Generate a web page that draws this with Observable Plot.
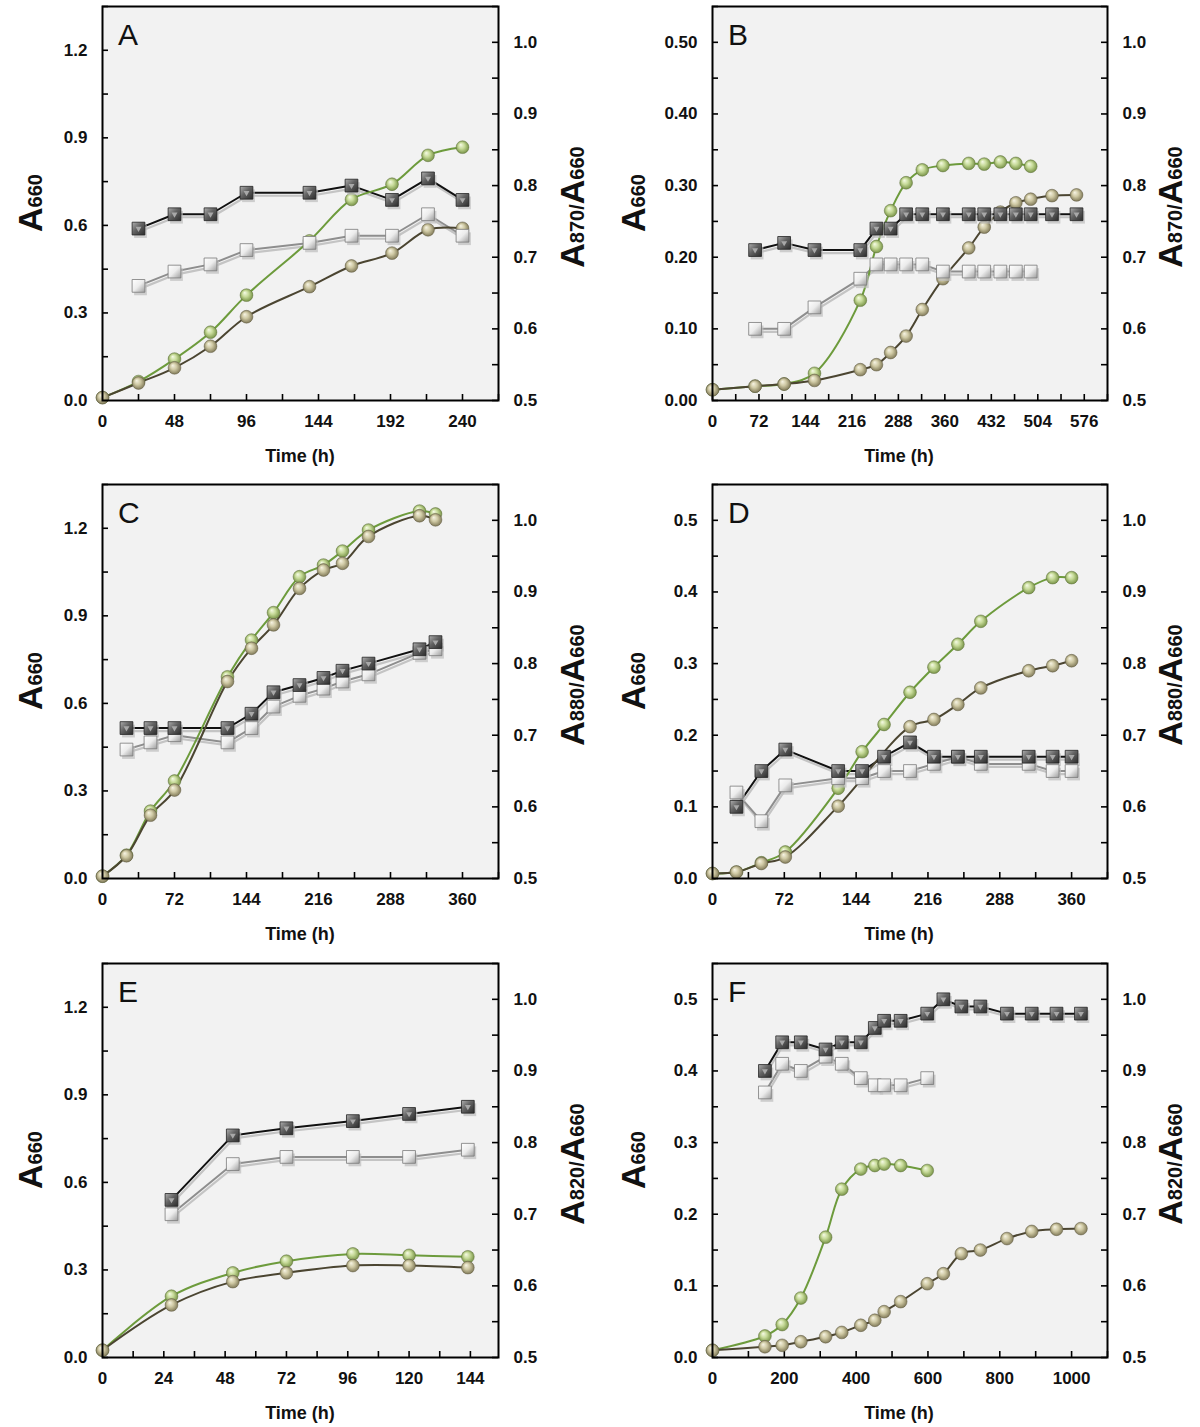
<!DOCTYPE html>
<html><head><meta charset="utf-8">
<script src="https://cdn.jsdelivr.net/npm/d3@7"></script>
<script src="https://cdn.jsdelivr.net/npm/@observablehq/plot@0.6"></script>
<style>
body{margin:0;background:#fff;font-family:"Liberation Sans",Arial,sans-serif;color:#111;}
#page{position:relative;width:1200px;height:1427px;overflow:hidden;background:#fff;}
.panel{position:absolute;width:600px;height:478px;}
.panel svg{position:absolute;left:0;top:0;}
.panel svg text{font-size:17px !important;font-weight:bold;fill:#111;}
.letter{position:absolute;font-size:30px;font-weight:normal;line-height:1;}
.xlab{position:absolute;font-size:18px;font-weight:bold;line-height:1;transform:translateX(-50%);white-space:nowrap;}
.ylab{position:absolute;font-weight:bold;white-space:nowrap;line-height:1;transform:translate(-50%,-50%) rotate(-90deg);}
.ylab .big{font-size:34px;}
.ylab .small{font-size:20px;}
</style></head><body>
<svg width="0" height="0" style="position:absolute"><defs>
<linearGradient id="sqDark" x1="0" y1="0" x2="1" y2="1">
<stop offset="0" stop-color="#b0b0b0"/><stop offset="0.45" stop-color="#626262"/><stop offset="1" stop-color="#2c2c2c"/></linearGradient>
<linearGradient id="sqLight" x1="0" y1="0" x2="1" y2="1">
<stop offset="0" stop-color="#ffffff"/><stop offset="0.5" stop-color="#ececec"/><stop offset="1" stop-color="#9c9c9c"/></linearGradient>
<radialGradient id="sphGreen" cx="0.5" cy="0.5" r="0.55" fx="0.35" fy="0.3">
<stop offset="0" stop-color="#f6fbe6"/><stop offset="0.45" stop-color="#c6da98"/><stop offset="1" stop-color="#6e8a3c"/></radialGradient>
<radialGradient id="sphTan" cx="0.5" cy="0.5" r="0.55" fx="0.35" fy="0.3">
<stop offset="0" stop-color="#f7f4e4"/><stop offset="0.45" stop-color="#cfc9a4"/><stop offset="1" stop-color="#77704f"/></radialGradient>
</defs></svg>
<div id="page"></div>
<script>
// ---------- tick labels ----------
const xTicksA = [0, 48, 96, 144, 192, 240];
const xTicksB = [0, 72, 144, 216, 288, 360, 432, 504, 576];
const xTicksCD = [0, 72, 144, 216, 288, 360];
const xTicksE = [0, 24, 48, 72, 96, 120, 144];
const xTicksF = [0, 200, 400, 600, 800, 1000];
const yTicksHigh = [0, 0.3, 0.6, 0.9, 1.2];
const yTicksLow = [0, 0.1, 0.2, 0.3, 0.4, 0.5];
const rTicks = [0.5, 0.6, 0.7, 0.8, 0.9, 1.0];

// ---------- Panel A ----------
const A_sphTime = [0, 24, 48, 72, 96, 138, 166, 193, 217, 240];
const A_green = [0.01, 0.065, 0.142, 0.234, 0.361, 0.547, 0.689, 0.741, 0.84, 0.868];
const A_tan = [0.01, 0.06, 0.112, 0.186, 0.287, 0.39, 0.461, 0.505, 0.585, 0.59];
const A_sqTime = [24, 48, 72, 96, 138, 166, 193, 217, 240];
const A_dark = [0.74, 0.76, 0.76, 0.79, 0.79, 0.80, 0.78, 0.81, 0.78];
const A_light = [0.66, 0.68, 0.69, 0.71, 0.72, 0.73, 0.73, 0.76, 0.73];

// ---------- Panel B ----------
const B_greenTime = [0, 66, 111, 158, 229, 254, 276, 300, 325, 357, 397, 421, 446, 470, 493];
const B_green = [0.015, 0.02, 0.023, 0.038, 0.14, 0.215, 0.265, 0.304, 0.322, 0.328, 0.331, 0.33, 0.333, 0.331, 0.327];
const B_tanTime = [0, 66, 111, 158, 229, 254, 276, 300, 325, 357, 397, 421, 446, 470, 493, 526, 564];
const B_tan = [0.015, 0.02, 0.023, 0.028, 0.043, 0.05, 0.067, 0.09, 0.127, 0.17, 0.213, 0.242, 0.263, 0.276, 0.281, 0.286, 0.287];
const B_darkTime = [66, 111, 158, 229, 254, 276, 300, 325, 357, 397, 421, 446, 470, 493, 526, 564];
const B_dark = [0.71, 0.72, 0.71, 0.71, 0.74, 0.74, 0.76, 0.76, 0.76, 0.76, 0.76, 0.76, 0.76, 0.76, 0.76, 0.76];
const B_lightTime = [66, 111, 158, 229, 254, 276, 300, 325, 357, 397, 421, 446, 470, 493];
const B_light = [0.60, 0.60, 0.63, 0.67, 0.69, 0.69, 0.69, 0.69, 0.68, 0.68, 0.68, 0.68, 0.68, 0.68];

// ---------- Panel C ----------
const C_sphTime = [0, 24, 48, 72, 125, 149, 171, 197, 221, 240, 266, 317, 333];
const C_green = [0.008, 0.08, 0.231, 0.334, 0.691, 0.817, 0.911, 1.034, 1.074, 1.122, 1.194, 1.259, 1.249];
const C_tan = [0.008, 0.078, 0.217, 0.303, 0.675, 0.789, 0.869, 0.994, 1.057, 1.08, 1.172, 1.243, 1.229];
const C_sqTime = [24, 48, 72, 125, 149, 171, 197, 221, 240, 266, 317, 333];
const C_dark = [0.71, 0.71, 0.71, 0.71, 0.73, 0.76, 0.77, 0.78, 0.79, 0.80, 0.82, 0.83];
const C_light = [0.68, 0.69, 0.70, 0.69, 0.71, 0.74, 0.755, 0.765, 0.775, 0.785, 0.815, 0.82];

// ---------- Panel D ----------
const D_greenTime = [0, 24, 49, 73, 126, 150, 172, 198, 222, 246, 269, 317, 341, 360];
const D_green = [0.007, 0.009, 0.022, 0.037, 0.126, 0.177, 0.215, 0.26, 0.295, 0.327, 0.359, 0.406, 0.42, 0.42];
const D_tanTime = [0, 24, 49, 73, 126, 198, 222, 246, 269, 317, 341, 360];
const D_tan = [0.007, 0.009, 0.021, 0.03, 0.101, 0.212, 0.222, 0.243, 0.266, 0.29, 0.297, 0.304];
const D_sqTime = [24, 49, 73, 126, 150, 172, 198, 222, 246, 269, 317, 341, 360];
const D_dark = [0.60, 0.65, 0.68, 0.65, 0.65, 0.67, 0.69, 0.67, 0.67, 0.67, 0.67, 0.67, 0.67];
const D_light = [0.62, 0.58, 0.63, 0.64, 0.64, 0.65, 0.65, 0.66, 0.67, 0.66, 0.66, 0.65, 0.65];

// ---------- Panel E ----------
const E_sphTime = [0, 27, 51, 72, 98, 120, 143];
const E_green = [0.025, 0.21, 0.29, 0.33, 0.355, 0.35, 0.345];
const E_tan = [0.025, 0.18, 0.26, 0.29, 0.315, 0.315, 0.308];
const E_sqTime = [27, 51, 72, 98, 120, 143];
const E_dark = [0.72, 0.81, 0.82, 0.83, 0.84, 0.85];
const E_light = [0.70, 0.77, 0.78, 0.78, 0.78, 0.79];

// ---------- Panel F ----------
const F_greenTime = [0, 146, 194, 246, 315, 360, 413, 452, 478, 524, 598];
const F_green = [0.01, 0.03, 0.046, 0.083, 0.168, 0.235, 0.263, 0.268, 0.27, 0.268, 0.261];
const F_tanTime = [0, 146, 194, 246, 315, 360, 413, 452, 478, 524, 598, 643, 693, 746, 820, 889, 958, 1026];
const F_tan = [0.01, 0.015, 0.017, 0.022, 0.029, 0.035, 0.045, 0.052, 0.064, 0.078, 0.103, 0.117, 0.145, 0.15, 0.166, 0.176, 0.179, 0.18];
const F_darkTime = [146, 194, 246, 315, 360, 413, 452, 478, 524, 598, 643, 693, 746, 820, 889, 958, 1026];
const F_dark = [0.90, 0.94, 0.94, 0.93, 0.94, 0.94, 0.96, 0.97, 0.97, 0.98, 1.00, 0.99, 0.99, 0.98, 0.98, 0.98, 0.98];
const F_lightTime = [146, 194, 246, 315, 360, 413, 452, 478, 524, 598];
const F_light = [0.87, 0.91, 0.90, 0.92, 0.91, 0.89, 0.88, 0.88, 0.88, 0.89];

const pts = (t, v) => t.map((x, i) => ({x, y: v[i]}));

const panels = [
  {letter: "A", row: 0, col: 0, xmax: 264, xTicks: xTicksA, xStep: 24, ymax: 1.35, yTicks: yTicksHigh, yStep: 0.15, yFmt: ".1f", ratio: "870",
   green: pts(A_sphTime, A_green), tan: pts(A_sphTime, A_tan), dark: pts(A_sqTime, A_dark), light: pts(A_sqTime, A_light)},
  {letter: "B", row: 0, col: 1, xmax: 612, xTicks: xTicksB, xStep: 36, ymax: 0.55, yTicks: yTicksLow, yStep: 0.05, yFmt: ".2f", ratio: "870",
   green: pts(B_greenTime, B_green), tan: pts(B_tanTime, B_tan), dark: pts(B_darkTime, B_dark), light: pts(B_lightTime, B_light)},
  {letter: "C", row: 1, col: 0, xmax: 396, xTicks: xTicksCD, xStep: 36, ymax: 1.35, yTicks: yTicksHigh, yStep: 0.15, yFmt: ".1f", ratio: "880",
   green: pts(C_sphTime, C_green), tan: pts(C_sphTime, C_tan), dark: pts(C_sqTime, C_dark), light: pts(C_sqTime, C_light)},
  {letter: "D", row: 1, col: 1, xmax: 396, xTicks: xTicksCD, xStep: 36, ymax: 0.55, yTicks: yTicksLow, yStep: 0.05, yFmt: ".1f", ratio: "880",
   green: pts(D_greenTime, D_green), tan: pts(D_tanTime, D_tan), dark: pts(D_sqTime, D_dark), light: pts(D_sqTime, D_light)},
  {letter: "E", row: 2, col: 0, xmax: 155, xTicks: xTicksE, xStep: 12, ymax: 1.35, yTicks: yTicksHigh, yStep: 0.15, yFmt: ".1f", ratio: "820",
   green: pts(E_sphTime, E_green), tan: pts(E_sphTime, E_tan), dark: pts(E_sqTime, E_dark), light: pts(E_sqTime, E_light)},
  {letter: "F", row: 2, col: 1, xmax: 1100, xTicks: xTicksF, xStep: 100, ymax: 0.55, yTicks: yTicksLow, yStep: 0.05, yFmt: ".1f", ratio: "820",
   green: pts(F_greenTime, F_green), tan: pts(F_tanTime, F_tan), dark: pts(F_darkTime, F_dark), light: pts(F_lightTime, F_light)}
];

const W = 600, H = 478, MT = 6, MB = 78, FH = H - MT - MB;
const rowTops = [0, 478, 957];
const cols = [
  {ml: 102, mr: 102, left: 0, xlab: 300, ylabL: 30, ylabR: 572},
  {ml: 112, mr: 93, left: 600, xlab: 299, ylabL: 33, ylabR: 570}
];
const baseStyle = {fontFamily: '"Liberation Sans", Arial, sans-serif', fontSize: "17px", fontWeight: "bold", color: "#111", background: "transparent", overflow: "visible"};
const RDOM = [0.5, 1.05];
const curveS = "catmull-rom";
const SQ = 7.2, SPH = 6.4;

function layer(p, col, ydom, opts, marks) {
  return Plot.plot({
    width: W, height: H, marginTop: MT, marginBottom: MB, marginLeft: col.ml, marginRight: col.mr,
    x: Object.assign({domain: [0, p.xmax]}, opts.x || {}),
    y: Object.assign({domain: ydom}, opts.y || {}),
    style: baseStyle,
    marks
  });
}

const page = document.getElementById("page");
for (const p of panels) {
  const col = cols[p.col];
  const PW = W - col.ml - col.mr;
  const div = document.createElement("div");
  div.className = "panel";
  div.style.left = col.left + "px";
  div.style.top = rowTops[p.row] + "px";
  page.appendChild(div);

  const xMinor = d3.range(0, p.xmax + 1e-9, p.xStep);
  const yMinor = d3.range(0, p.ymax + 1e-9, p.yStep);
  const rMinor = d3.range(0.5, 1.05 + 1e-9, 0.05);

  // layer 1: background, x axis, left axis
  div.appendChild(layer(p, col, [0, p.ymax], {}, [
    Plot.frame({fill: "#f2f2f2", stroke: null}),
    Plot.tickX(xMinor, {x: d => d, insetTop: FH - 6, stroke: "#000", strokeWidth: 1.6}),
    Plot.tickY(yMinor, {y: d => d, insetRight: PW - 6, stroke: "#000", strokeWidth: 1.6}),
    Plot.axisX({ticks: p.xTicks, tickSize: 0, tickPadding: 14, tickFormat: d => String(d), label: null}),
    Plot.axisY({ticks: p.yTicks, anchor: "left", tickSize: 0, tickPadding: 15, tickFormat: d3.format(p.yFmt), label: null})
  ]));

  // layer 2: right axis + ratio lines
  div.appendChild(layer(p, col, RDOM, {x: {axis: null}}, [
    Plot.tickY(rMinor, {y: d => d, insetLeft: PW - 6, stroke: "#000", strokeWidth: 1.6}),
    Plot.axisY({ticks: rTicks, anchor: "right", tickSize: 0, tickPadding: 15, tickFormat: d3.format(".1f"), label: null}),
    Plot.line(p.light, {x: "x", y: "y", stroke: "#c4c4c4", strokeWidth: 2.2, dx: 1, dy: 3}),
    Plot.line(p.dark, {x: "x", y: "y", stroke: "#c4c4c4", strokeWidth: 2.2, dx: 1, dy: 3}),
    Plot.line(p.light, {x: "x", y: "y", stroke: "#8e8e8e", strokeWidth: 2}),
    Plot.line(p.dark, {x: "x", y: "y", stroke: "#111", strokeWidth: 2})
  ]));

  // layer 3: growth (A660) lines and spheres
  div.appendChild(layer(p, col, [0, p.ymax], {x: {axis: null}, y: {axis: null}}, [
    Plot.line(p.green, {x: "x", y: "y", stroke: "#6d9b3c", strokeWidth: 2, curve: curveS}),
    Plot.line(p.tan, {x: "x", y: "y", stroke: "#4b4531", strokeWidth: 2, curve: curveS}),
    Plot.dot(p.green, {x: "x", y: "y", r: SPH, fill: "url(#sphGreen)", stroke: "#5d6f3a", strokeWidth: 0.5}),
    Plot.dot(p.tan, {x: "x", y: "y", r: SPH, fill: "url(#sphTan)", stroke: "#5e5840", strokeWidth: 0.5})
  ]));

  // layer 4: ratio squares + frame
  div.appendChild(layer(p, col, RDOM, {x: {axis: null}, y: {axis: null}}, [
    Plot.dot(p.light, {x: "x", y: "y", symbol: "square", r: SQ, fill: "#bdbdbd", fillOpacity: 0.7, stroke: null, dx: 2, dy: 3}),
    Plot.dot(p.dark, {x: "x", y: "y", symbol: "square", r: SQ, fill: "#bdbdbd", fillOpacity: 0.7, stroke: null, dx: 2, dy: 3}),
    Plot.dot(p.light, {x: "x", y: "y", symbol: "square", r: SQ, fill: "url(#sqLight)", stroke: "#7a7a7a", strokeWidth: 0.8}),
    Plot.dot(p.dark, {x: "x", y: "y", symbol: "square", r: SQ, fill: "url(#sqDark)", stroke: "#222", strokeWidth: 0.8}),
    Plot.dot(p.dark, {x: "x", y: "y", symbol: "triangle", rotate: 180, r: 2.2, fill: "#a8a8a8", stroke: null}),
    Plot.frame({stroke: "#000", strokeWidth: 2})
  ]));

  // text: letter, x label, y labels
  const letter = document.createElement("div");
  letter.className = "letter";
  letter.textContent = p.letter;
  letter.style.left = (col.ml + 16) + "px";
  letter.style.top = (MT + 39 - 25.4) + "px";
  div.appendChild(letter);

  const xl = document.createElement("div");
  xl.className = "xlab";
  xl.textContent = "Time (h)";
  xl.style.left = col.xlab + "px";
  xl.style.top = "446.5px";
  div.appendChild(xl);

  const yl = document.createElement("div");
  yl.className = "ylab";
  yl.innerHTML = '<span class="big">A</span><span class="small">660</span>';
  yl.style.left = col.ylabL + "px";
  yl.style.top = (MT + FH / 2) + "px";
  div.appendChild(yl);

  const yr = document.createElement("div");
  yr.className = "ylab";
  yr.innerHTML = '<span class="big">A</span><span class="small">' + p.ratio + '/</span><span class="big">A</span><span class="small">660</span>';
  yr.style.left = col.ylabR + "px";
  yr.style.top = (MT + FH / 2 + 4) + "px";
  div.appendChild(yr);
}
</script>
</body></html>
